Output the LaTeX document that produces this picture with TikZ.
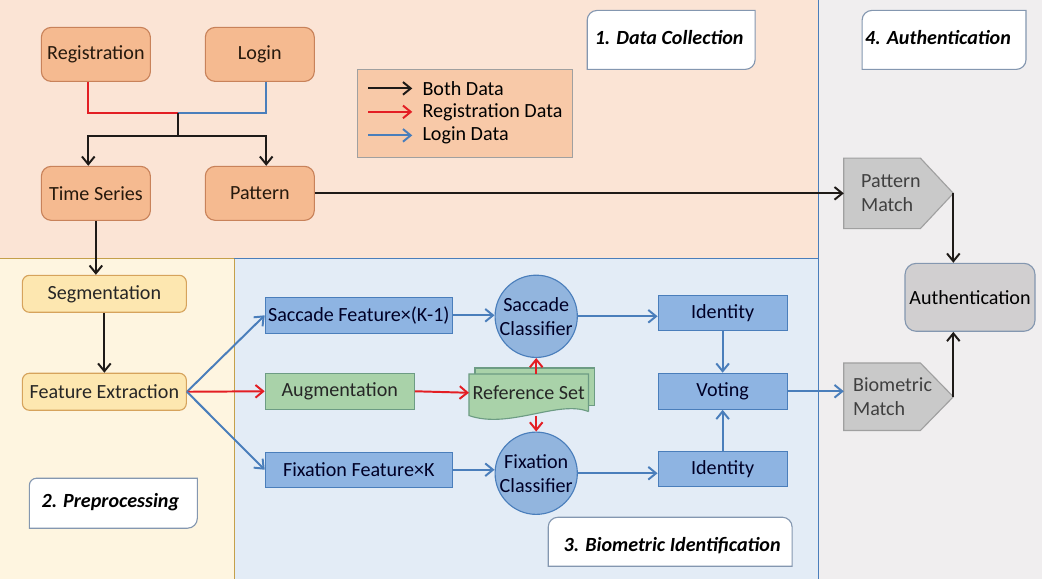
\documentclass[tikz,border=0pt]{standalone}
\usepackage{fontspec}
\setmainfont{Carlito}
\usetikzlibrary{arrows.meta,positioning,calc}

\definecolor{bgpeach}{HTML}{FBE4D5}
\definecolor{bggrey}{HTML}{F0EEEF}
\definecolor{bgcream}{HTML}{FEF5E0}
\definecolor{bgblue}{HTML}{E3ECF6}
\definecolor{orfill}{HTML}{F5BA90}
\definecolor{ordraw}{HTML}{C8825A}
\definecolor{legfill}{HTML}{F8C9A8}
\definecolor{yefill}{HTML}{FDE7B0}
\definecolor{yedraw}{HTML}{D6A35C}
\definecolor{blfill}{HTML}{8EB4E2}
\definecolor{bldraw}{HTML}{4A7EBB}
\definecolor{cifill}{HTML}{92B5DE}
\definecolor{grfill}{HTML}{A9D2A9}
\definecolor{grdraw}{HTML}{6D9C84}
\definecolor{gyfill}{HTML}{C9C9C9}
\definecolor{gydraw}{HTML}{A0A0A0}
\definecolor{aufill}{HTML}{D1CFD0}
\definecolor{audraw}{HTML}{8497B0}
\definecolor{goldline}{HTML}{C4A04A}
\definecolor{lnred}{HTML}{E31E24}
\definecolor{lnblue}{HTML}{4A7EBB}
\definecolor{lnblack}{HTML}{1E1A17}
\definecolor{txdark}{HTML}{262626}

\tikzset{
  base/.style={font=\fontsize{14.3}{17}\selectfont, inner sep=0pt, text=txdark},
  orbox/.style={base, draw=ordraw, fill=orfill, rounded corners=7pt, line width=0.8pt,
    minimum width=2.725cm, minimum height=1.35cm, text=black!80!brown},
  yebox/.style={base, draw=yedraw, fill=yefill, rounded corners=5pt, line width=0.8pt,
    minimum width=4.1cm, minimum height=0.925cm},
  blbox/.style={base, draw=bldraw, fill=blfill, line width=0.8pt, minimum height=0.9cm, text=black!85!blue},
  grbox/.style={base, draw=grdraw, fill=grfill, line width=0.8pt},
  classif/.style={base, circle, draw=bldraw, fill=cifill, line width=0.8pt, minimum size=2.0cm,
    align=center, text=black!85!blue},
  matchtext/.style={base, align=left, minimum height=1.75cm, text=black!75},
  matchline/.style={draw=gydraw, fill=gyfill, line width=0.8pt},
  tagline/.style={draw=audraw, fill=white, line width=0.8pt},
  tagtext/.style={base, font=\fontsize{14.3}{17}\selectfont\bfseries\itshape, text=black},
  blkarr/.style={draw=lnblack, line width=1.4pt, ->},
  redarr/.style={draw=lnred, line width=1.4pt, ->},
  bluarr/.style={draw=lnblue, line width=1.4pt, ->},
}

\begin{document}
\begin{tikzpicture}[x=0.025cm, y=-0.025cm, >={Straight Barb[length=5.5pt,width=9pt]}]
  % regions
  \fill[bgpeach] (0,0) rectangle (818,258);
  \fill[bggrey] (818,0) rectangle (1042,579);
  \fill[bgcream] (0,258) rectangle (234,579);
  \fill[bgblue] (234,258) rectangle (818,579);
  \draw[goldline, line width=0.6pt] (0,258) -- (234,258) -- (234,579);
  \draw[lnblue, line width=0.6pt] (234,258) -- (818,258);
  \draw[lnblue, line width=0.6pt] (818,0) -- (818,579);

  % 1. data collection
  \node[orbox] (reg) at (95.5,54) {Registration};
  \node[orbox] (log) at (259.5,54) {Login};
  \node[orbox] (ts) at (95.5,193) {Time Series};
  \node[orbox] (pat) at (259.5,193) {Pattern};
  \coordinate (jn) at (178,113);
  \coordinate (sp) at (178,136);
  \draw[lnred, line width=1.4pt] ([xshift=-0.19cm]reg.south) |- (jn);
  \draw[lnblue, line width=1.4pt] ([xshift=0.16cm]log.south) |- (jn);
  \draw[lnblack, line width=1.4pt] (jn) -- (sp);
  \draw[blkarr] (sp) -| ([xshift=-0.19cm]ts.north);
  \draw[blkarr] (sp) -| ([xshift=0.16cm]pat.north);

  % legend
  \node[draw=gydraw, fill=legfill, line width=0.6pt, minimum width=5.375cm, minimum height=2.2cm] (leg) at (464.5,113) {};
  \node[base, anchor=west, text=black] (lb) at (422,88) {Both Data};
  \node[base, anchor=west, text=black] (lr) at (422,111.5) {Registration Data};
  \node[base, anchor=west, text=black] (ll) at (422,135) {Login Data};
  \draw[blkarr] ($(lb.west)+(-54,0)$) -- ([xshift=-0.25cm]lb.west);
  \draw[redarr] ($(lr.west)+(-54,0)$) -- ([xshift=-0.25cm]lr.west);
  \draw[bluarr] ($(ll.west)+(-54,0)$) -- ([xshift=-0.25cm]ll.west);

  % section tags
  \draw[tagline] (587,69) [rounded corners=7pt] -- (587,10) [sharp corners] -- (755,10) [rounded corners=7pt] -- (755,69) [sharp corners] -- cycle;
  \node[tagtext] (tag1) at (669,37) {1. Data Collection};
  \draw[tagline] (862,69) [rounded corners=7pt] -- (862,10) [sharp corners] -- (1026,10) [rounded corners=7pt] -- (1026,69) [sharp corners] -- cycle;
  \node[tagtext] (tag4) at (938,37) {4. Authentication};
  \draw[tagline] (29,528) [rounded corners=5pt] -- (29,478) [sharp corners] -- (197,478) [rounded corners=7pt] -- (197,528) [sharp corners] -- cycle;
  \node[tagtext] (tag2) at (110,502) {2. Preprocessing};
  \draw[tagline] (548,566) [rounded corners=7pt] -- (548,517) -- (792,517) [sharp corners] -- (792,566) -- cycle;
  \node[tagtext] (tag3) at (672,545) {3. Biometric Identification};

  % 2. preprocessing
  \node[yebox] (seg) at (104,293.5) {Segmentation};
  \node[yebox] (fe) at (104,391.5) {Feature Extraction};
  \draw[blkarr] (ts.south) -- (ts.south |- seg.north);
  \draw[blkarr] (seg.south) -- (fe.north);

  % 3. biometric identification
  \node[blbox, minimum width=4.675cm] (sf) at (358.5,315) {Saccade Feature\texttimes(K-1)};
  \node[grbox, minimum width=3.725cm, minimum height=0.9cm] (aug) at (339.5,391) {Augmentation};
  \node[blbox, minimum width=4.675cm, minimum height=0.875cm] (ff) at (358.5,469.5) {Fixation Feature\texttimes K};
  \node[classif] (sc) at (536,316) {Saccade\\Classifier};
  \node[classif] (fc) at (536,473) {Fixation\\Classifier};
  \node[base, minimum width=2.975cm, minimum height=0.925cm] (ref) at (528.5,392.5) {};
  \draw[grbox] ($(ref.north west)+(6,-6)$) rectangle ($(ref.south east)+(6,-6)$);
  \draw[grbox] (ref.south east) -- (ref.north east) -- (ref.north west) -- ([yshift=-0.1cm]ref.south west)
    .. controls +(40,14) and +(-30,-12) .. (ref.south east);
  \node[base] at (ref) {Reference Set};
  \node[blbox, minimum width=3.225cm, minimum height=0.875cm] (id1) at (722.5,313) {Identity};
  \node[blbox, minimum width=3.225cm, minimum height=0.9cm] (vot) at (722.5,391) {Voting};
  \node[blbox, minimum width=3.225cm, minimum height=0.875cm] (id2) at (722.5,468.5) {Identity};

  \draw[bluarr] (fe.east) -- (sf.west);
  \draw[redarr] (fe.east) -- (aug.west);
  \draw[bluarr] (fe.east) -- (ff.west);
  \draw[redarr] (aug.east) -- (ref.west);
  \draw[redarr] (ref.north -| sc.south) -- (sc.south);
  \draw[redarr] ($(ref.south -| fc.north)+(0,4)$) -- (fc.north);
  \draw[bluarr] (sf.east) -- (sf.east -| sc.west);
  \draw[bluarr] (ff.east) -- (ff.east -| fc.west);
  \draw[bluarr] (sc.east) -- (sc.east -| id1.west);
  \draw[bluarr] (fc.east) -- (fc.east -| id2.west);
  \draw[bluarr] (id1.south) -- (vot.north);
  \draw[bluarr] (id2.north) -- (vot.south);

  % 4. authentication
  \node[matchtext, inner xsep=0.425cm, text width=1.05cm] (pm) at (882,193) {};
  \coordinate (pmtip) at ($(pm.east)+(33,0)$);
  \draw[matchline] (pm.north west) -- (pm.north east) -- (pmtip) -- (pm.south east) -- (pm.south west) -- cycle;
  \node[matchtext] at (pm) [inner xsep=0.425cm, text width=1.05cm] {Pattern\\Match};
  \node[matchtext, inner xsep=0.225cm, text width=1.45cm, minimum height=1.675cm] (bm) at (882,396.5) {};
  \coordinate (bmtip) at ($(bm.east)+(33,0)$);
  \draw[matchline] (bm.north west) -- (bm.north east) -- (bmtip) -- (bm.south east) -- (bm.south west) -- cycle;
  \node[matchtext, inner xsep=0.225cm, text width=1.6cm, minimum height=1.675cm, anchor=west] at (bm.west) {Biometric\\Match};
  \node[base, draw=audraw, fill=aufill, rounded corners=8pt, line width=0.8pt, minimum width=3.25cm,
    minimum height=1.7cm, text=black] (auth) at (970,297) {Authentication};

  \draw[blkarr] (pat.east) -- (pm.west);
  \draw[bluarr] (vot.east) -- (vot.east -| bm.west);
  \draw[blkarr] (pmtip) -- (pmtip |- auth.north);
  \draw[blkarr] (bmtip) -- (bmtip |- auth.south);
\end{tikzpicture}
\end{document}
